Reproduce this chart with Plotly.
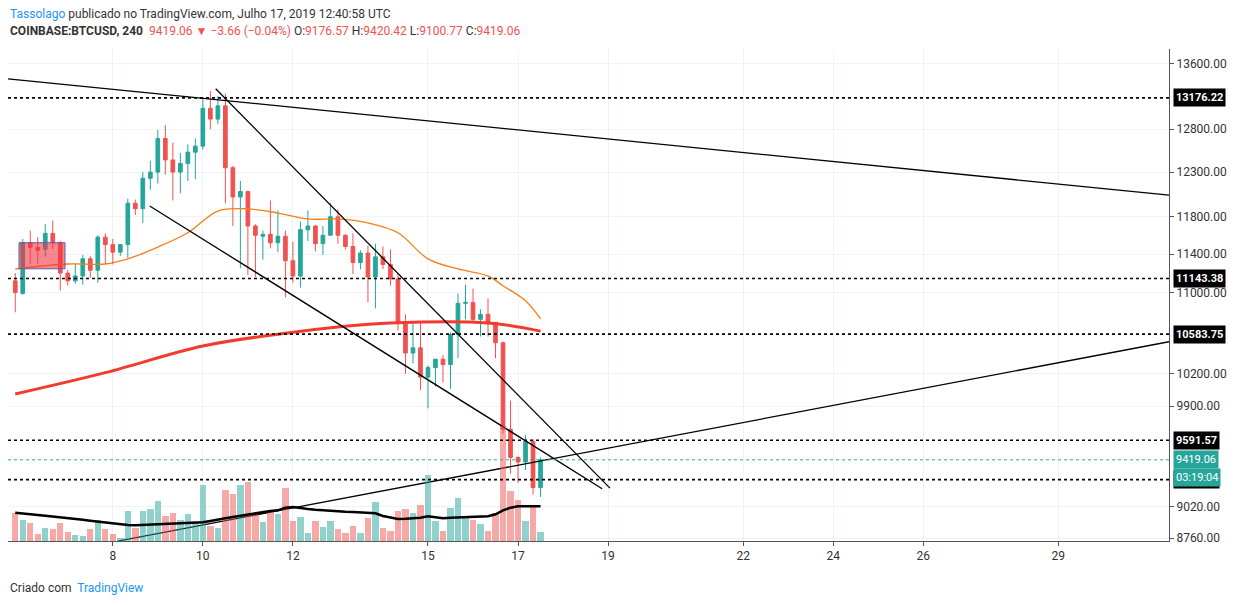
import plotly.graph_objects as go
import pandas as pd
import math

start = pd.Timestamp("2019-07-05 20:00")
opens  = [11120,10990,11520,11470,11450,11620,11520,11200,11120,11170,11350,11230,11580,11500,11420,11500,11950,11890,12230,12300,12690,12440,12300,12400,12530,12600,13050,12920,13080,12350,12020,12080,11700,11590,11610,11520,11590,11330,11170,11660,11700,11510,11600,11800,11600,11480,11310,11410,11160,11370,11290,11140,10700,10400,10450,10170,10260,10340,10290,10580,10890,10900,10730,10780,10700,10500,9690,9440,9400,9580,9180]
highs  = [11200,11560,11650,11580,11720,11760,11540,11230,11300,11390,11380,11600,11620,11560,11440,12000,11990,12300,12430,12790,12850,12640,12520,12620,12690,13176,13260,13200,13230,12370,12200,12090,11720,11650,11980,11870,11650,11530,11750,11870,11710,11700,11950,11880,11610,11620,11440,11490,11510,11480,11450,11190,10780,10690,10700,10280,10300,10380,10600,10990,11080,11040,10830,10940,10700,10510,9950,9450,9640,9600,9440]
lows   = [10800,10980,11300,11300,11370,11450,11020,11070,11090,11080,11150,11100,11300,11290,11380,11360,11820,11730,12100,12170,12270,11980,12060,12200,12220,12560,12800,12860,11950,11700,11250,11180,11160,11340,11460,11420,10950,11100,11050,11540,11430,11390,11600,11510,11450,11190,11240,10900,10840,11240,11070,10620,10200,10300,10050,9880,10080,10120,10060,10350,10730,10700,10560,10560,10350,9650,9300,9220,9330,9120,9100]
closes = [11000,11520,11470,11440,11620,11520,11200,11120,11170,11350,11230,11580,11500,11420,11500,11950,11890,12230,12300,12690,12440,12300,12400,12530,12600,13050,12920,13080,12350,12020,12080,11700,11600,11610,11520,11590,11330,11170,11660,11700,11510,11600,11800,11600,11480,11310,11410,11160,11370,11290,11140,10700,10400,10450,10170,10260,10340,10290,10580,10890,10900,10730,10780,10700,10500,9690,9440,9400,9580,9180,9419.06]
volume = [85,63,55,22,38,37,55,28,18,15,37,63,37,22,8,90,40,90,97,120,75,84,63,80,55,168,45,40,153,142,168,178,80,58,87,82,160,60,73,25,60,42,60,37,25,45,25,70,117,39,30,90,97,85,108,198,60,30,100,130,70,63,52,30,85,345,150,123,60,102,28]
vol_ma = [85,82,80,78,76,74,72,70,67,64,61,58,56,53,50,48,47,48,49,50,50,51,51,52,53,56,60,63,68,72,76,80,84,87,90,92,100,102,98,96,94,92,90,89,88,87,86,85,83,75,70,66,67,68,70,74,70,68,70,71,72,72,72,74,80,92,100,104,104,103,104]
ma_fast_idx = [0,7,12,15,19,23,27,31,35,39,43,47,51,55,59,63,65,68,70]
ma_fast = [11243,11295,11295,11349,11474,11627,11864,11887,11842,11777,11777,11734,11627,11349,11243,11171,11070,10916,10735]
ma_slow_idx = [0,12,25,36,43,50,63,70]
ma_slow = [10012,10212,10468,10593,10654,10694,10694,10613]

levels = [13176.22, 11143.38, 10583.75, 9591.57, 9247.72]
last_price = 9419.06
trend_lines = [
    (("2019-07-05 16:08", 13412), ("2019-07-31 11:00", 12040)),
    (("2019-07-10 06:50", 13288), ("2019-07-19 01:00", 9175)),
    (("2019-07-08 19:40", 11920), ("2019-07-18 20:50", 9170)),
    (("2019-07-08 02:40", 8735), ("2019-07-31 11:00", 10509)),
]
tick_days = [8, 10, 12, 15, 17, 19, 22, 24, 26, 29]
price_ticks = [13600, 12800, 12300, 11800, 11400, 11000, 10200, 9900, 9020, 8760]

times = [start + pd.Timedelta(hours=4 * i) for i in range(len(opens))]
UP, DN = "#26a69a", "#ef5350"
vcol = ["rgba(38,166,154,0.5)" if c >= o else "rgba(239,83,80,0.5)" for o, c in zip(opens, closes)]

fig = go.Figure()
fig.add_trace(go.Bar(x=times, y=volume, marker_color=vcol, marker_line_width=0, yaxis="y2", width=4*3600*1000*0.85))
fig.add_trace(go.Scatter(x=times, y=vol_ma, mode="lines", line=dict(color="black", width=2.5), yaxis="y2"))
fig.add_trace(go.Scatter(x=[times[i] for i in ma_slow_idx], y=ma_slow, mode="lines", line=dict(color="#f23b2e", width=3, shape="spline")))
fig.add_trace(go.Scatter(x=[times[i] for i in ma_fast_idx], y=ma_fast, mode="lines", line=dict(color="#f57f17", width=1.3, shape="spline")))
fig.add_trace(go.Candlestick(x=times, open=opens, high=highs, low=lows, close=closes,
    increasing=dict(line=dict(color=UP, width=1), fillcolor=UP),
    decreasing=dict(line=dict(color=DN, width=1), fillcolor=DN), whiskerwidth=0))
for (a, b) in trend_lines:
    fig.add_trace(go.Scatter(x=[a[0], b[0]], y=[a[1], b[1]], mode="lines", line=dict(color="black", width=1.3)))

shapes = []
for lv in levels:
    shapes.append(dict(type="line", xref="paper", x0=0, x1=1, yref="y", y0=lv, y1=lv, line=dict(color="black", width=1.6, dash="dot")))
shapes.append(dict(type="line", xref="paper", x0=0, x1=1, yref="y", y0=last_price, y1=last_price, line=dict(color=UP, width=1, dash="dot")))
shapes.append(dict(type="rect", x0="2019-07-05 22:00", x1="2019-07-06 22:30", y0=11245, y1=11520, fillcolor="rgba(242,54,69,0.6)", line=dict(color="#5b5ea6", width=1), layer="above"))
fig.update_layout(shapes=shapes)

anns = []
for lv in levels:
    anns.append(dict(xref="paper", x=1, xshift=4, y=math.log10(lv), yref="y", xanchor="left", text=f"<b>{lv:.2f}</b>", showarrow=False, bgcolor="black", font=dict(color="white", size=11), borderpad=2))
anns.append(dict(xref="paper", x=1, xshift=4, y=math.log10(last_price), yref="y", xanchor="left", text="9419.06", showarrow=False, bgcolor=UP, font=dict(color="white", size=11), borderpad=2))
anns.append(dict(xref="paper", x=1, xshift=4, y=math.log10(last_price), yref="y", yshift=-18, xanchor="left", text="03:19:04", showarrow=False, bgcolor=UP, font=dict(color="white", size=11), borderpad=2))
anns.append(dict(xref="paper", yref="paper", x=0, y=1, xanchor="left", yanchor="top", showarrow=False, yshift=44,
    text="<span style='color:#2196f3'>Tassolago</span> publicado no TradingView.com, Julho 17, 2019 12:40:58 UTC", font=dict(size=12, color="#333")))
anns.append(dict(xref="paper", yref="paper", x=0, y=1, xanchor="left", yanchor="top", showarrow=False, yshift=27,
    text="<b>COINBASE:BTCUSD, 240</b>  <span style='color:#ef5350'>9419.06 ▼ −3.66 (−0.04%)</span> O:<span style='color:#ef5350'>9176.57</span> H:<span style='color:#ef5350'>9420.42</span> L:<span style='color:#ef5350'>9100.77</span> C:<span style='color:#ef5350'>9419.06</span>", font=dict(size=12, color="#333")))
anns.append(dict(xref="paper", yref="paper", x=0, y=0, xanchor="left", yanchor="top", showarrow=False, yshift=-38,
    text="Criado com  <span style='color:#2196f3'>TradingView</span>", font=dict(size=12, color="#333")))
fig.update_layout(annotations=anns)

fig.update_layout(
    width=1243, height=605, margin=dict(l=0, r=82, t=41, b=72),
    paper_bgcolor="white", plot_bgcolor="white", showlegend=False,
    font=dict(family="Roboto, Arial", size=12, color="#333"),
    xaxis=dict(range=["2019-07-05 16:08", "2019-07-31 11:00"], rangeslider=dict(visible=False),
               tickvals=[f"2019-07-{d:02d}" for d in tick_days], ticktext=[str(d) for d in tick_days],
               showgrid=True, gridcolor="#eef3f7", showline=True, linecolor="#555", ticks="outside", ticklen=4, tickcolor="#555"),
    yaxis=dict(type="log", side="right", range=[3.9413, 4.1395], tickvals=price_ticks, ticktext=[f"{v:.2f}" for v in price_ticks],
               showgrid=True, gridcolor="#eef3f7", showline=True, linecolor="#555", ticks="outside", ticklen=4, tickcolor="#555", zeroline=False),
    yaxis2=dict(overlaying="y", range=[0, 1476], visible=False),
    bargap=0,
)
fig.write_html("out.html")
